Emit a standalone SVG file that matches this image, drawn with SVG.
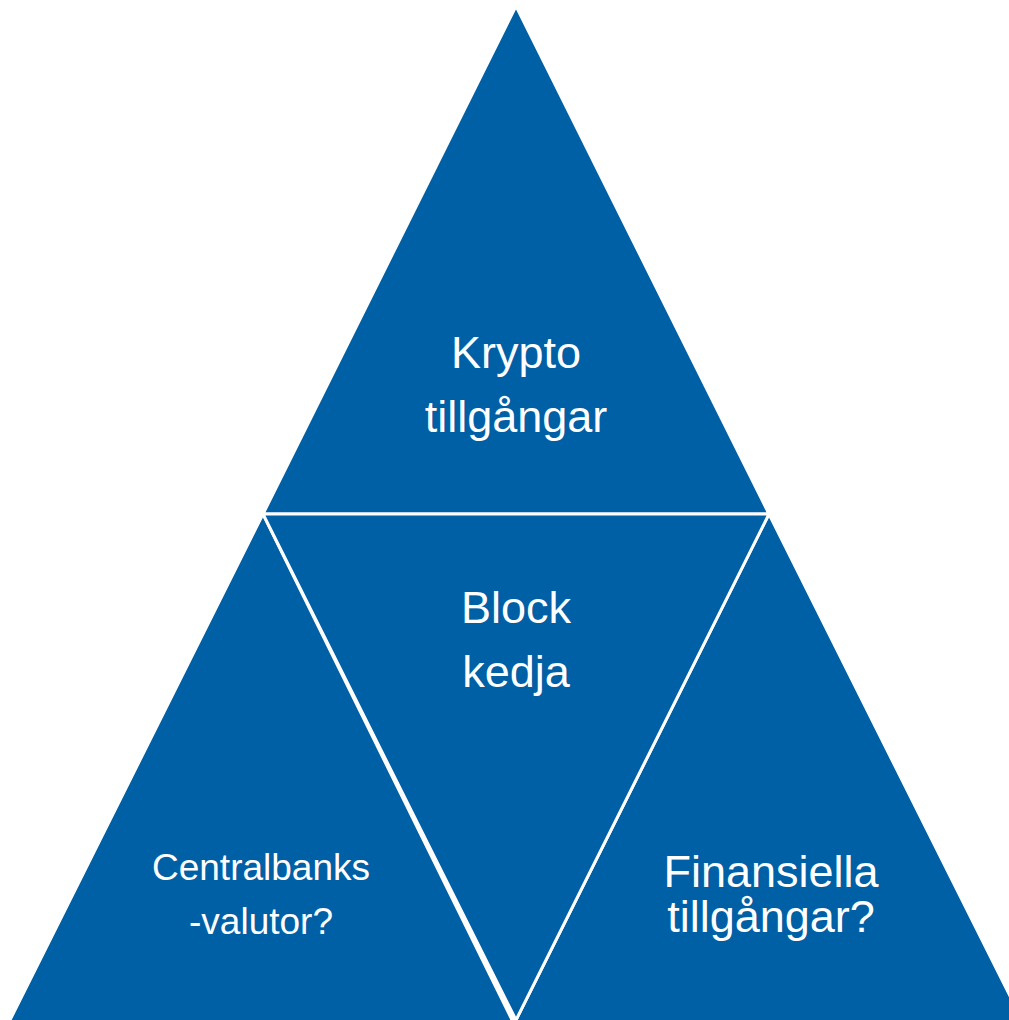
<svg xmlns="http://www.w3.org/2000/svg" width="1009" height="1020" viewBox="0 0 1009 1020">
<style>
.tri{fill:#0060A6;stroke:#FFFFFF;stroke-width:3;stroke-linejoin:miter}
.t{font-family:"Liberation Sans",Arial,sans-serif;fill:#FFFFFF;text-anchor:middle}
</style>
<rect width="1009" height="1020" fill="#FFFFFF"/>
<g id="node-top"><polygon class="tri" points="516,6 263,514 769,514"/>
<text class="t" font-size="45"><tspan x="516" y="368">Krypto</tspan><tspan x="516" y="432">tillgångar</tspan></text></g>
<g id="node-left"><polygon class="tri" points="263,514 6,1028 516,1028"/>
<text class="t" font-size="37"><tspan x="261" y="880">Centralbanks</tspan><tspan x="261" y="934">-valutor?</tspan></text></g>
<g id="node-right"><polygon class="tri" points="769,514 512,1028 1026,1028"/>
<text class="t" font-size="45"><tspan x="771" y="887">Finansiella</tspan><tspan x="771" y="932">tillgångar?</tspan></text></g>
<g id="node-center"><polygon class="tri" points="263,514 769,514 516,1020"/>
<text class="t" font-size="45"><tspan x="516" y="623">Block</tspan><tspan x="516" y="687">kedja</tspan></text></g>
<g id="connectors"></g>
</svg>
